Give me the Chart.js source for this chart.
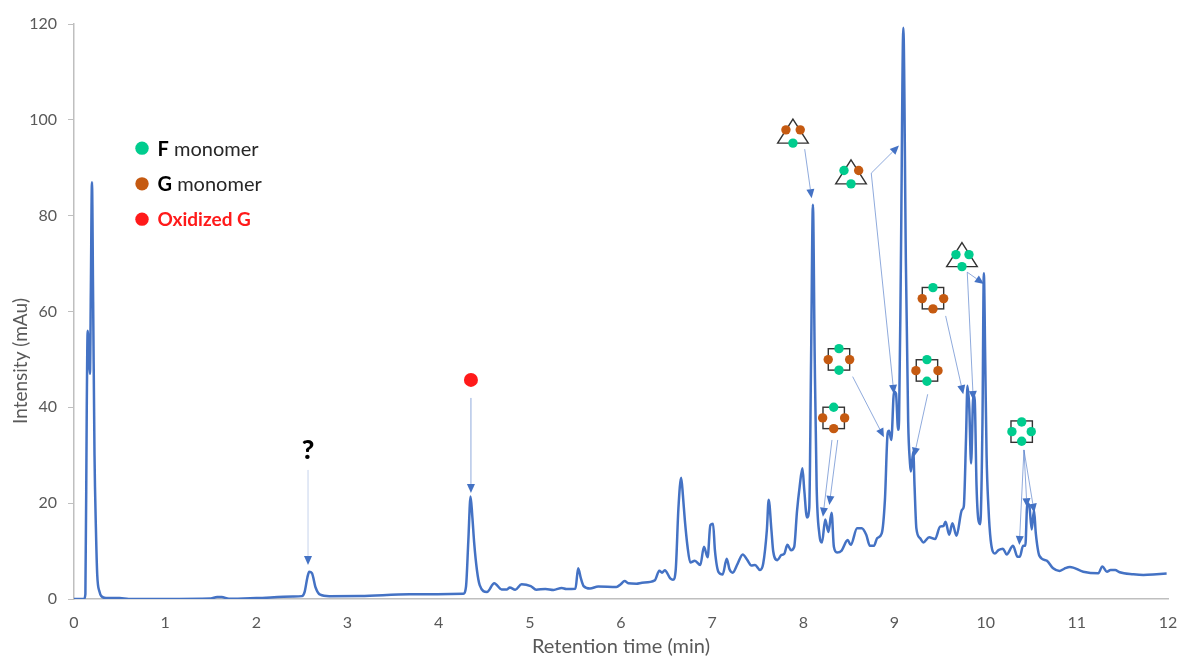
<!DOCTYPE html>
<html>
<head>
<meta charset="utf-8">
<title>Chromatogram</title>
<style>
  html, body { margin: 0; padding: 0; background: #fff; }
  #wrap { width: 1180px; height: 657px; }
</style>
<script src="https://cdn.jsdelivr.net/npm/chart.js@4/dist/chart.umd.min.js"></script>
</head>
<body>
<div id="wrap"><canvas id="myChart" width="1180" height="657"></canvas></div>
<script>
const xTicks = [0, 1, 2, 3, 4, 5, 6, 7, 8, 9, 10, 11, 12];
const yTicks = [0, 20, 40, 60, 80, 100, 120];

// retention time (min)
const times = [
  0, 0.11, 0.125, 0.14, 0.15, 0.165, 0.175, 0.185, 0.197, 0.21, 0.225, 0.24, 0.255, 0.28, 0.3, 0.35, 0.5, 0.6, 1.0, 1.5,
  1.57, 1.62, 1.7, 2.0, 2.4, 2.5, 2.53, 2.56, 2.58, 2.61, 2.65, 2.7, 2.8, 3.14, 3.68, 4.27, 4.3, 4.325, 4.35, 4.37,
  4.39, 4.42, 4.45, 4.53, 4.61, 4.69, 4.75, 4.78, 4.84, 4.91, 5.01, 5.07, 5.17, 5.26, 5.35, 5.4, 5.5, 5.53, 5.56, 5.59,
  5.66, 5.75, 5.95, 5.997, 6.04, 6.08, 6.17, 6.23, 6.37, 6.42, 6.45, 6.48, 6.54, 6.57, 6.6, 6.63, 6.66, 6.68, 6.7, 6.73,
  6.76, 6.81, 6.87, 6.91, 6.95, 6.98, 7.01, 7.03, 7.07, 7.115, 7.16, 7.19, 7.225, 7.28, 7.335, 7.38, 7.43, 7.47, 7.525, 7.56,
  7.6, 7.62, 7.65, 7.67, 7.715, 7.76, 7.79, 7.825, 7.865, 7.9, 7.93, 7.96, 7.99, 8.01, 8.04, 8.065, 8.085, 8.105, 8.125, 8.146,
  8.175, 8.205, 8.24, 8.275, 8.31, 8.335, 8.37, 8.42, 8.486, 8.52, 8.59, 8.64, 8.69, 8.73, 8.775, 8.81, 8.86, 8.895, 8.925, 8.94,
  8.965, 8.995, 9.016, 9.04, 9.05, 9.07, 9.097, 9.125, 9.15, 9.17, 9.18, 9.206, 9.22, 9.24, 9.28, 9.317, 9.38, 9.445, 9.5, 9.535,
  9.56, 9.6, 9.635, 9.68, 9.74, 9.76, 9.785, 9.8, 9.82, 9.84, 9.865, 9.88, 9.9, 9.92, 9.94, 9.965, 9.98, 9.995, 10.01, 10.03,
  10.055, 10.1, 10.14, 10.19, 10.23, 10.3, 10.35, 10.375, 10.41, 10.435, 10.457, 10.48, 10.505, 10.53, 10.55, 10.59, 10.67, 10.74, 10.81, 10.86,
  10.925, 11.07, 11.235, 11.28, 11.33, 11.37, 11.42, 11.47, 11.62, 11.73, 11.875, 11.985
];

// intensity (mAu)
const intensity = [
  0, 0, 1, 40, 56, 50, 47, 65, 87, 62, 30, 15, 5, 1.5, 0.6, 0.2, 0.2, 0, 0, 0.1,
  0.4, 0.4, 0.05, 0.2, 0.5, 0.6, 1.5, 4.5, 5.7, 5.4, 2.4, 0.9, 0.6, 0.63, 0.97, 1.1, 2.6, 12, 21.4, 17,
  11.6, 6, 2.9, 1.46, 3.3, 2, 2, 2.4, 1.95, 3.1, 2.7, 1.95, 2.1, 1.9, 2.3, 2.1, 2.15, 6.4, 4.3, 2.7,
  2.2, 2.6, 2.5, 3.1, 3.76, 3.3, 3.2, 3.4, 3.9, 5.9, 5.5, 6, 4.3, 4, 6.05, 19, 25.3, 21.4, 16.5, 10.9,
  7.6, 8, 7.1, 10.9, 8.7, 15.4, 15.7, 10.2, 5.6, 5.1, 8.4, 6.2, 5.5, 7.4, 9.3, 8.3, 7, 7.1, 6.05, 7.4,
  14.4, 20.7, 14.4, 9.9, 8.1, 9.2, 9.4, 11.3, 10.2, 10.9, 18.2, 23.5, 27.3, 22.8, 17, 19, 50, 82.3, 50, 23.4,
  13.7, 11.8, 16.6, 14, 18, 10.9, 9.7, 10.1, 12.3, 11.3, 14.75, 14.75, 13.4, 11.1, 11.1, 12.7, 13.7, 20.7, 34.6, 35.1,
  33.2, 43.3, 42.9, 35.3, 37.4, 70, 119.2, 70, 37, 28.3, 26.6, 30.8, 23.5, 14.75, 12.7, 11.8, 12.9, 12.5, 15.1, 15.2,
  16.1, 13.4, 15.8, 13.2, 18.6, 19.3, 33.9, 44.5, 40, 28.3, 42.6, 41.5, 23.5, 16.5, 15.6, 37, 68, 50, 30, 19.3,
  12.3, 9.5, 10.2, 10.5, 9.3, 11.1, 8.8, 8.8, 11.1, 11.1, 20, 19.3, 14.5, 18.6, 13.7, 9, 8, 6.4, 5.85, 6.3,
  6.7, 5.7, 5.36, 6.8, 5.7, 6.05, 6.05, 5.57, 5.15, 5, 5.15, 5.3
];

// annotation markers, in axis units [min, mAu]
const greenDots = [
  [7.886, 95.14], [8.446, 89.42], [8.523, 86.64], [9.674, 71.88], [9.817, 71.88], [9.74, 69.37], [9.422, 64.99], [8.391, 52.25],
  [8.391, 47.75], [8.333, 40.02], [9.356, 49.96], [9.356, 45.45], [10.395, 36.95], [10.395, 32.92], [10.288, 34.93], [10.5, 34.93]
];
const brownDots = [
  [7.809, 97.91], [7.966, 97.91], [8.607, 89.42], [9.304, 62.69], [9.539, 62.69], [9.422, 60.54], [8.273, 49.96],
  [8.508, 49.96], [8.212, 37.79], [8.453, 37.79], [8.333, 35.55], [9.235, 47.66], [9.477, 47.66]
];
const redDots = [[4.354, 45.72]];
const legendLabels = [
  ["F", " monomer", "#00CC8E"],
  ["G", " monomer", "#C55A11"],
  ["Oxidized G", "", "#FF1A1A"]
];
const legendDots = [[0.746, 94.09], [0.746, 86.64], [0.746, 79.27]];

const triangles = [[7.886, 95.14], [8.523, 86.64], [9.74, 69.37]];
const squares = [[9.422, 62.78], [8.391, 50.0], [8.333, 37.79], [9.356, 47.7], [10.395, 34.93]];

// from x, from y, to x, to y
const arrows = [
  [2.567, 26.93, 2.567, 7.1],
  [4.354, 41.96, 4.354, 22.13],
  [8.015, 93.88, 8.091, 83.65],
  [8.745, 88.87, 9.049, 94.63],
  [8.745, 88.87, 8.994, 42.8],
  [9.798, 68.2, 9.981, 65.76],
  [9.798, 68.2, 9.864, 41.54],
  [9.561, 59.08, 9.754, 42.73],
  [8.541, 46.41, 8.884, 33.76],
  [8.314, 33.19, 8.215, 17.18],
  [8.377, 33.19, 8.285, 19.62],
  [9.364, 42.73, 9.214, 29.71],
  [10.42, 31.11, 10.369, 11.27],
  [10.42, 31.11, 10.453, 19.14],
  [10.42, 31.11, 10.533, 18.02]
];

function toPoints(list) {
  return list.map(function (p) {
    return { x: p[0], y: p[1] };
  });
}

function dotDataset(list, color, radius) {
  return {
    data: toPoints(list),
    showLine: false,
    pointRadius: radius,
    pointBackgroundColor: color,
    pointBorderWidth: 0,
  };
}

function drawArrow(ctx, x0, y0, x1, y1, pale) {
  const angle = Math.atan2(y1 - y0, x1 - x0);
  const len = 9;
  const wide = 4;
  const bx = x1 - Math.cos(angle) * len;
  const by = y1 - Math.sin(angle) * len;
  ctx.strokeStyle = pale ? "rgba(68,114,196,0.3)" : "rgba(68,114,196,0.6)";
  ctx.lineWidth = 1;
  ctx.beginPath();
  ctx.moveTo(x0, y0);
  ctx.lineTo(bx, by);
  ctx.stroke();
  ctx.fillStyle = "#4472C4";
  ctx.beginPath();
  ctx.moveTo(x1, y1);
  ctx.lineTo(bx - Math.sin(angle) * wide, by + Math.cos(angle) * wide);
  ctx.lineTo(bx + Math.sin(angle) * wide, by - Math.cos(angle) * wide);
  ctx.closePath();
  ctx.fill();
}

// glyph outlines go under the dots
const glyphOutlines = {
  id: "glyphOutlines",
  beforeDatasetsDraw(chart) {
    const ctx = chart.ctx;
    const xs = chart.scales.x;
    const ys = chart.scales.y;
    ctx.save();
    ctx.strokeStyle = "#333333";
    ctx.lineWidth = 1.4;
    triangles.forEach(function (t) {
      const cx = xs.getPixelForValue(t[0]);
      const cy = ys.getPixelForValue(t[1]);
      ctx.beginPath();
      ctx.moveTo(cx, cy - 24);
      ctx.lineTo(cx + 15.3, cy);
      ctx.lineTo(cx - 15.3, cy);
      ctx.closePath();
      ctx.stroke();
    });
    squares.forEach(function (s) {
      const cx = xs.getPixelForValue(s[0]);
      const cy = ys.getPixelForValue(s[1]);
      ctx.strokeRect(cx - 10.7, cy - 10.7, 21.4, 21.4);
    });
    ctx.restore();
  },
};

// arrows and the free text of the figure
const figureNotes = {
  id: "figureNotes",
  afterDatasetsDraw(chart) {
    const ctx = chart.ctx;
    const xs = chart.scales.x;
    const ys = chart.scales.y;
    ctx.save();
    arrows.forEach(function (a, i) {
      drawArrow(
        ctx,
        xs.getPixelForValue(a[0]),
        ys.getPixelForValue(a[1]),
        xs.getPixelForValue(a[2]),
        ys.getPixelForValue(a[3]),
        i === 0
      );
    });

    ctx.textBaseline = "middle";
    ctx.textAlign = "left";
    legendLabels.forEach(function (item, i) {
      const x = xs.getPixelForValue(legendDots[i][0]) + 15.5;
      const y = ys.getPixelForValue(legendDots[i][1]) + 1;
      const isRed = item[1] === "";
      ctx.fillStyle = isRed ? "#FF1A1A" : "#000000";
      ctx.font = isRed ? "bold 19px Lato" : "bold 20px Lato";
      ctx.fillText(item[0], x, y);
      if (!isRed) {
        const w = ctx.measureText(item[0]).width;
        ctx.font = "20px Lato";
        ctx.fillStyle = "#262626";
        ctx.fillText(item[1], x + w, y);
      }
    });

    ctx.textAlign = "center";
    ctx.fillStyle = "#000000";
    ctx.font = "900 27px Lato";
    ctx.fillText("?", xs.getPixelForValue(2.567), ys.getPixelForValue(31.1));

    // y title sits lower than the axis centre in the original
    ctx.translate(21, 361);
    ctx.rotate(-Math.PI / 2);
    ctx.fillStyle = "#595959";
    ctx.font = "19px Lato";
    ctx.fillText("Intensity (mAu)", 0, 0);
    ctx.restore();
  },
};

const chromatogram = times.map(function (t, i) {
  return { x: t, y: intensity[i] };
});

new Chart(document.getElementById("myChart"), {
  type: "scatter",
  data: {
    datasets: [
      {
        data: chromatogram,
        showLine: true,
        borderColor: "#4472C4",
        borderWidth: 2.5,
        pointRadius: 0,
        cubicInterpolationMode: "monotone",
      },
      dotDataset(greenDots, "#00CC8E", 4.7),
      dotDataset(brownDots, "#C55A11", 4.7),
      dotDataset(redDots, "#FF1A1A", 7),
      {
        data: toPoints(legendDots),
        showLine: false,
        pointRadius: 6.7,
        pointBorderWidth: 0,
        pointBackgroundColor: legendLabels.map(function (l) {
          return l[2];
        }),
      },
    ],
  },
  plugins: [glyphOutlines, figureNotes],
  options: {
    responsive: false,
    animation: false,
    layout: { padding: { left: 0, right: 12, top: 24, bottom: 0 } },
    plugins: {
      legend: { display: false },
      tooltip: { enabled: false },
    },
    scales: {
      x: {
        type: "linear",
        min: 0,
        max: 12,
        afterBuildTicks: function (scale) {
          scale.ticks = xTicks.map(function (v) {
            return { value: v };
          });
        },
        afterFit: function (scale) {
          scale.height = 58;
        },
        border: { color: "#BFBFBF", width: 1.5 },
        // tick padding would widen the right margin, so push labels down with a hidden tick
        grid: {
          drawOnChartArea: false,
          drawTicks: true,
          tickLength: 14,
          tickColor: "rgba(0,0,0,0)",
        },
        ticks: {
          color: "#595959",
          font: { family: "Lato", size: 16 },
          padding: 0,
          maxRotation: 0,
        },
        title: {
          display: true,
          text: "Retention time (min)",
          color: "#595959",
          font: { family: "Lato", size: 20, lineHeight: 1 },
          padding: { top: 1, bottom: 0 },
        },
      },
      y: {
        type: "linear",
        min: 0,
        max: 120,
        afterBuildTicks: function (scale) {
          scale.ticks = yTicks.map(function (v) {
            return { value: v };
          });
        },
        afterFit: function (scale) {
          scale.width = 74;
        },
        border: { color: "#BFBFBF", width: 1.5 },
        grid: {
          drawOnChartArea: false,
          drawTicks: true,
          tickLength: 6,
          tickColor: "#BFBFBF",
        },
        ticks: {
          color: "#595959",
          font: { family: "Lato", size: 16 },
          padding: 11,
        },
      },
    },
  },
});
</script>
</body>
</html>
